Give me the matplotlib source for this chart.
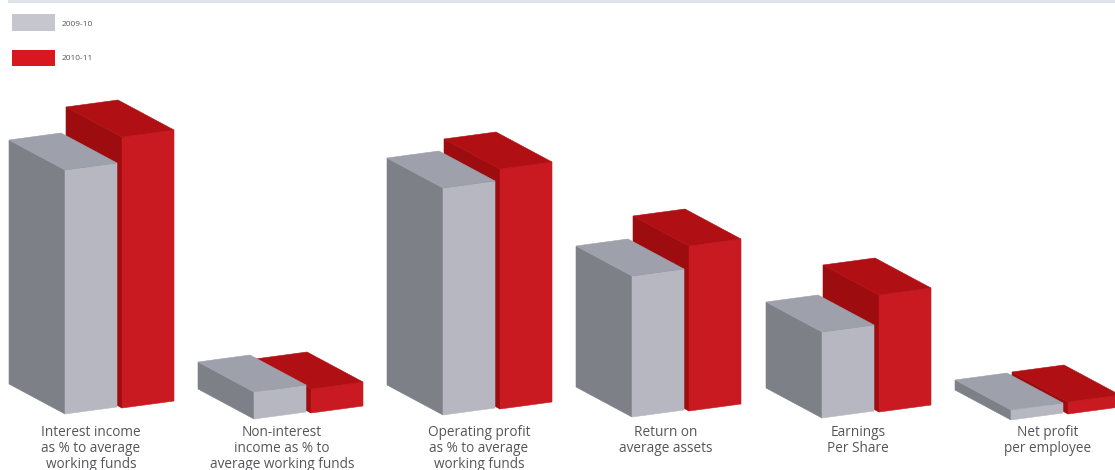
import matplotlib
matplotlib.use("Agg")
import matplotlib.pyplot as plt
from matplotlib.patches import Polygon, Rectangle

# Chart content
categories = [
    "Interest income\nas % to average\nworking funds",
    "Non-interest\nincome as % to\naverage working funds",
    "Operating profit\nas % to average\nworking funds",
    "Return on\naverage assets",
    "Earnings\nPer Share",
    "Net profit\nper employee",
]
series_names = ["2009-10", "2010-11"]
values_2009_10 = [244, 27, 227, 141, 86, 10]
values_2010_11 = [271, 24, 240, 165, 117, 12]

# Layout of the oblique projection, in canvas pixels
group_x = [65, 254, 443, 632, 822, 1011]
group_floor = [414, 419, 415, 417, 418, 420]
label_x = [91, 282, 479, 666, 858, 1048]
label_rows = [433, 449, 464]
width_vec = (52, -7)
depth_vec = (-56, -30)
red_offset = (57, -6)

GRAY = {"left": "#7e8088", "front": "#b6b7c1", "top": "#9ea1ab"}
RED = {"left": "#9d0c0e", "front": "#c81a20", "top": "#b01013"}
TEXT = "#56565a"

plt.rcParams["font.family"] = ["Open Sans", "DejaVu Sans"]
fig = plt.figure(figsize=(11.15, 4.7), dpi=100)
ax = fig.add_axes([0, 0, 1, 1])
ax.set_xlim(0, 1115)
ax.set_ylim(470, 0)
ax.axis("off")


def draw_box(x, floor, height, colors):
    """Draw one block from its front-left floor corner and its height."""
    wx, wy = width_vec
    dx, dy = depth_vec
    top = floor - height
    faces = {
        "left": [(x, floor), (x, top), (x + dx, top + dy), (x + dx, floor + dy)],
        "front": [(x, floor), (x, top), (x + wx, top + wy), (x + wx, floor + wy)],
        "top": [(x, top), (x + wx, top + wy), (x + wx + dx, top + wy + dy), (x + dx, top + dy)],
    }
    for name, pts in faces.items():
        ax.add_patch(Polygon(pts, closed=True, facecolor=colors[name],
                             edgecolor=colors[name], linewidth=0.4))


# The 2010-11 block sits behind the 2009-10 block from this viewpoint
for i, label in enumerate(categories):
    draw_box(group_x[i] + red_offset[0], group_floor[i] + red_offset[1],
             values_2010_11[i], RED)
    draw_box(group_x[i], group_floor[i], values_2009_10[i], GRAY)
    for row, line in zip(label_rows, label.split("\n")):
        ax.text(label_x[i], row, line, ha="center", va="center",
                fontsize=9.8, color=TEXT)

# Legend swatches and the thin rule along the top edge
ax.add_patch(Rectangle((12, 14), 43, 17, facecolor="#c6c6ce", edgecolor="none"))
ax.add_patch(Rectangle((12, 50), 43, 16, facecolor="#d8171f", edgecolor="none"))
ax.text(62, 24, series_names[0], fontsize=6, color=TEXT, va="center")
ax.text(62, 59, series_names[1], fontsize=6, color=TEXT, va="center")
ax.add_patch(Rectangle((8, 0), 1107, 2.5, facecolor="#dfe2ea", edgecolor="none"))

fig.savefig("out.png", dpi=100)
